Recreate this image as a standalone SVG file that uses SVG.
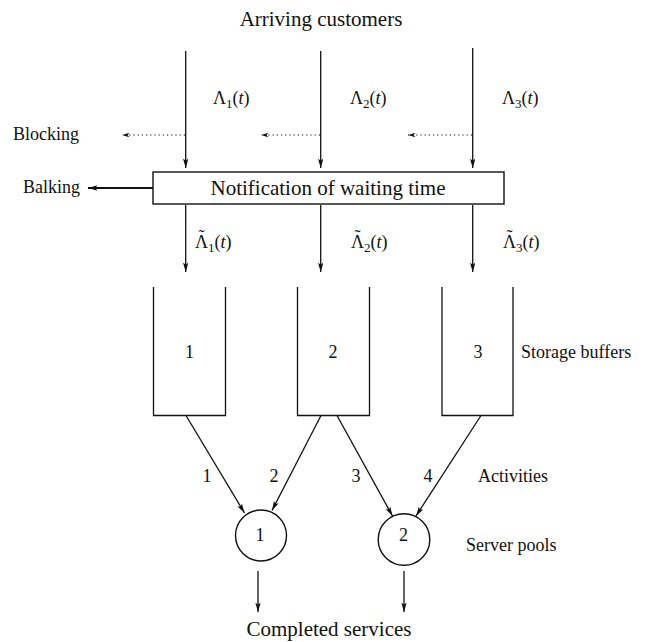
<svg xmlns="http://www.w3.org/2000/svg" width="645" height="642" viewBox="0 0 645 642">
  <style>
    text { font-family: "Liberation Serif", "Times New Roman", serif; fill: #111; }
    .lbl { font-size: 18px; }
    .big { font-size: 21px; }
    .sub { font-size: 13px; }
    .it { font-style: italic; }
    .ln { stroke: #111; stroke-width: 1.3; fill: none; }
    .thick { stroke: #111; stroke-width: 1.8; fill: none; }
    .dot { stroke: #111; stroke-width: 1.1; fill: none; stroke-dasharray: 1.2 3; }
    .shape { stroke: #111; stroke-width: 1.4; fill: #fff; }
  </style>
  <defs>
    <marker id="head" markerUnits="userSpaceOnUse" markerWidth="11" markerHeight="7" refX="9.5" refY="2.7" orient="auto">
      <path d="M0,0 L9.5,2.7 L0,5.4 L2.2,2.7 z" fill="#111"/>
    </marker>
    <marker id="headSmall" markerUnits="userSpaceOnUse" markerWidth="9" markerHeight="6" refX="7.5" refY="2.3" orient="auto">
      <path d="M0,0 L7.5,2.3 L0,4.6 L2,2.3 z" fill="#111"/>
    </marker>
  </defs>

  <rect width="645" height="642" fill="#fff"/>

  <!-- titles and side labels -->
  <text class="big" x="321" y="26" text-anchor="middle">Arriving customers</text>
  <text class="lbl" x="13" y="140">Blocking</text>
  <text class="lbl" x="23" y="193">Balking</text>
  <text class="lbl" x="521" y="358">Storage buffers</text>
  <text class="lbl" x="478" y="482">Activities</text>
  <text class="lbl" x="466" y="551">Server pools</text>
  <text class="big" x="329" y="636" text-anchor="middle">Completed services</text>

  <!-- arrival rates before and after notification -->
  <g id="rates">
    <text class="lbl" x="213" y="104">Λ<tspan class="sub" dy="4">1</tspan><tspan dy="-4">(</tspan><tspan class="it">t</tspan>)</text>
    <text class="lbl" x="350" y="104">Λ<tspan class="sub" dy="4">2</tspan><tspan dy="-4">(</tspan><tspan class="it">t</tspan>)</text>
    <text class="lbl" x="502" y="104">Λ<tspan class="sub" dy="4">3</tspan><tspan dy="-4">(</tspan><tspan class="it">t</tspan>)</text>

    <!-- tilde placed over the capital lambda inside the same text -->
    <text class="lbl" x="195" y="248"><tspan x="198.5" y="243">˜</tspan><tspan x="195" y="248">Λ</tspan><tspan class="sub" dy="4">1</tspan><tspan dy="-4">(</tspan><tspan class="it">t</tspan>)</text>
    <text class="lbl" x="351" y="248"><tspan x="354.5" y="243">˜</tspan><tspan x="351" y="248">Λ</tspan><tspan class="sub" dy="4">2</tspan><tspan dy="-4">(</tspan><tspan class="it">t</tspan>)</text>
    <text class="lbl" x="503" y="248"><tspan x="506.5" y="243">˜</tspan><tspan x="503" y="248">Λ</tspan><tspan class="sub" dy="4">3</tspan><tspan dy="-4">(</tspan><tspan class="it">t</tspan>)</text>
  </g>

  <!-- notification box -->
  <g id="notification">
    <rect class="shape" x="153" y="172" width="351" height="32"/>
    <text class="big" x="328" y="195" text-anchor="middle">Notification of waiting time</text>
  </g>

  <!-- storage buffers -->
  <g id="buffer1">
    <path class="ln" d="M153.5,287 V415.5 H225.5 V287"/>
    <text class="lbl" x="189.5" y="358" text-anchor="middle">1</text>
  </g>
  <g id="buffer2">
    <path class="ln" d="M297.5,287 V415.5 H369.5 V287"/>
    <text class="lbl" x="333" y="358" text-anchor="middle">2</text>
  </g>
  <g id="buffer3">
    <path class="ln" d="M442,287 V415.5 H513 V287"/>
    <text class="lbl" x="478" y="358" text-anchor="middle">3</text>
  </g>

  <!-- server pools -->
  <g id="pool1">
    <circle class="shape" cx="261" cy="535.5" r="25.5"/>
    <text class="lbl" x="260" y="541" text-anchor="middle">1</text>
  </g>
  <g id="pool2">
    <circle class="shape" cx="404" cy="539.5" r="25.8"/>
    <text class="lbl" x="403.5" y="541" text-anchor="middle">2</text>
  </g>

  <!-- connectors -->
  <g id="connectors">
    <line class="ln" x1="185.7" y1="51" x2="185.7" y2="168" marker-end="url(#head)"/>
    <line class="ln" x1="320.7" y1="51" x2="320.7" y2="168" marker-end="url(#head)"/>
    <line class="ln" x1="472.7" y1="48" x2="472.7" y2="168" marker-end="url(#head)"/>

    <line class="dot" x1="185" y1="135" x2="122" y2="135" marker-end="url(#headSmall)"/>
    <line class="dot" x1="320" y1="135" x2="261" y2="135" marker-end="url(#headSmall)"/>
    <line class="dot" x1="472" y1="135" x2="408" y2="135" marker-end="url(#headSmall)"/>

    <line class="thick" x1="153" y1="188" x2="88" y2="188" marker-end="url(#head)"/>

    <line class="ln" x1="185.7" y1="205" x2="185.7" y2="272" marker-end="url(#head)"/>
    <line class="ln" x1="320.7" y1="205" x2="320.7" y2="272" marker-end="url(#head)"/>
    <line class="ln" x1="472.7" y1="205" x2="472.7" y2="272" marker-end="url(#head)"/>

    <line class="ln" x1="186" y1="415.5" x2="244.5" y2="513" marker-end="url(#head)"/>
    <line class="ln" x1="321" y1="415.5" x2="272" y2="510.5" marker-end="url(#head)"/>
    <line class="ln" x1="337" y1="415.5" x2="392.5" y2="516" marker-end="url(#head)"/>
    <line class="ln" x1="481" y1="415.5" x2="416" y2="516" marker-end="url(#head)"/>

    <line class="ln" x1="258" y1="571" x2="258" y2="612" marker-end="url(#head)"/>
    <line class="ln" x1="404" y1="571" x2="404" y2="612" marker-end="url(#head)"/>
  </g>

  <!-- activity numbers -->
  <g id="activity-labels">
    <text class="lbl" x="207" y="482" text-anchor="middle">1</text>
    <text class="lbl" x="274" y="482" text-anchor="middle">2</text>
    <text class="lbl" x="356" y="482" text-anchor="middle">3</text>
    <text class="lbl" x="428" y="482" text-anchor="middle">4</text>
  </g>
</svg>
